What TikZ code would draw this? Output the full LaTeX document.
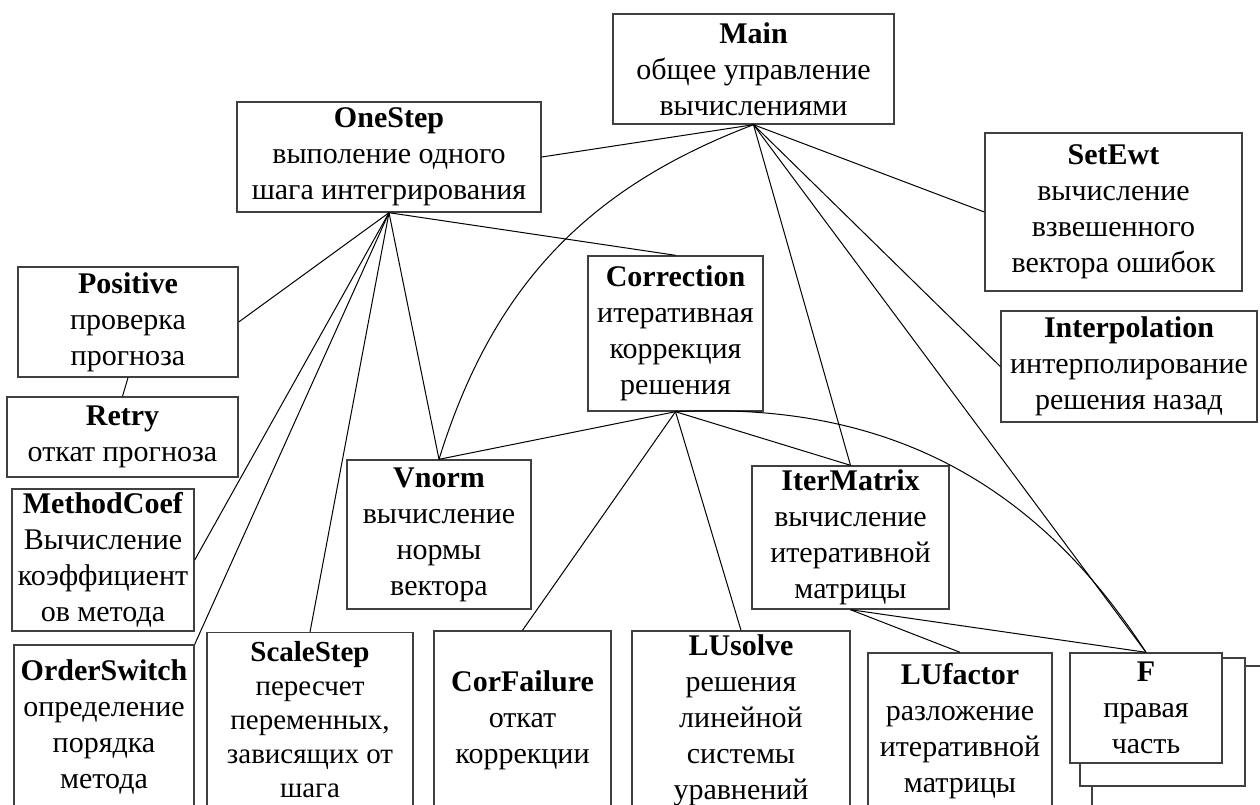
\documentclass[tikz,border=0pt]{standalone}
\usepackage{fontspec}
\setmainfont{Liberation Serif}

\begin{document}
\begin{tikzpicture}[x = 1pt, y = -1pt, font = {\fontsize{30}{36}\selectfont},
	frame/.style = {draw = black!75, line width = 1.4pt, fill = white},
	block/.style 2 args = {frame, align = center, inner sep = 1pt, minimum width = #1, minimum height = #2},
	link/.style = {line width = 1pt}]

	% Canvas
	
	\useasboundingbox (0, 0) rectangle (1260, 804);
	\clip (0, 0) rectangle (1260, 804);
	
	% Top level
	
	\node [block = {281pt}{110pt}] (main) at (753.5, 69) {\textbf{Main}\\общее управление\\вычислениями};
	\node [block = {304pt}{110pt}] (onestep) at (389, 157) {\textbf{OneStep}\\выполение одного\\шага интегрирования};
	\node [block = {257pt}{158pt}] (setewt) at (1113.5, 212) {\textbf{SetEwt}\\вычисление\\взвешенного\\вектора ошибок};
	\node [block = {256pt}{111pt}] (interp) at (1129, 366.5) {\textbf{Interpolation}\\интерполирование\\решения назад};
	
	% Left column
	
	\node [block = {220pt}{110pt}] (positive) at (128, 322) {\textbf{Positive}\\проверка\\прогноза};
	\node [block = {231pt}{80pt}] (retry) at (122.5, 437) {\textbf{Retry}\\откат прогноза};
	\node [block = {182pt}{142pt}] (methodcoef) at (103, 560) {\textbf{MethodCoef}\\Вычисление\\коэффициент\\ов метода};
	\node [block = {180pt}{163pt}] (orderswitch) at (104, 726.5) {\textbf{OrderSwitch}\\определение\\порядка\\метода};
	\node [block = {206pt}{174pt}, anchor = north, font = {\fontsize{29}{34}\selectfont}] (scalestep) at (310, 632) {\textbf{ScaleStep}\\пересчет\\переменных,\\зависящих от\\шага};
	
	% Middle
	
	\node [block = {175pt}{155pt}] (correction) at (675.5, 333.5) {\textbf{Correction}\\итеративная\\коррекция\\решения};
	\node [block = {184pt}{149pt}] (vnorm) at (439, 534.5) {\textbf{Vnorm}\\вычисление\\нормы\\вектора};
	\node [block = {197pt}{143pt}] (itermatrix) at (850.5, 537.5) {\textbf{IterMatrix}\\вычисление\\итеративной\\матрицы};
	
	% Bottom row
	
	\node [block = {177pt}{178pt}] (corfailure) at (522.5, 720) {\textbf{CorFailure}\\откат\\коррекции};
	\node [block = {218pt}{178pt}] (lusolve) at (741, 720) {\textbf{LUsolve}\\решения\\линейной\\системы\\уравнений};
	\node [block = {184pt}{156pt}] (lufactor) at (960, 731) {\textbf{LUfactor}\\разложение\\итеративной\\матрицы};
	
	% Stack of F
	
	\draw [frame] (1092, 666) rectangle (1290, 830);
	\draw [frame] (1080, 658) rectangle (1245, 786);
	\node [block = {152pt}{110pt}] (f) at (1146, 708) {\textbf{F}\\правая\\часть};
	
	% Links from Main
	
	\draw [link] (main.south) -- (onestep.east);
	\draw [link] (main.south) -- (setewt.west);
	\draw [link] (main.south) -- (interp.west);
	\draw [link] (main.south) -- (itermatrix.north);
	\draw [link] (main.south) -- (f.north);
	\draw [link] (main.south) to [bend right = 26] (vnorm.north);
	
	% Links from OneStep
	
	\draw [link] (onestep.south) -- (positive.east);
	\draw [link] (onestep.south) -- (methodcoef.east);
	\draw [link] (onestep.south) -- (orderswitch.north east);
	\draw [link] (onestep.south) -- (scalestep.north);
	\draw [link] (onestep.south) -- (vnorm.north);
	\draw [link] (onestep.south) -- (correction.north);
	\draw [link] (positive.south) -- (retry.north);
	
	% Links from Correction and IterMatrix
	
	\draw [link] (correction.south) -- (vnorm.north);
	\draw [link] (correction.south) -- (corfailure.north);
	\draw [link] (correction.south) -- (lusolve.north);
	\draw [link] (correction.south) -- (itermatrix.north);
	\draw [link] (correction.south) to [bend left = 30] (f.north);
	\draw [link] (itermatrix.south) -- (lufactor.north);
	\draw [link] (itermatrix.south) -- (f.north);
	
\end{tikzpicture}
\end{document}
